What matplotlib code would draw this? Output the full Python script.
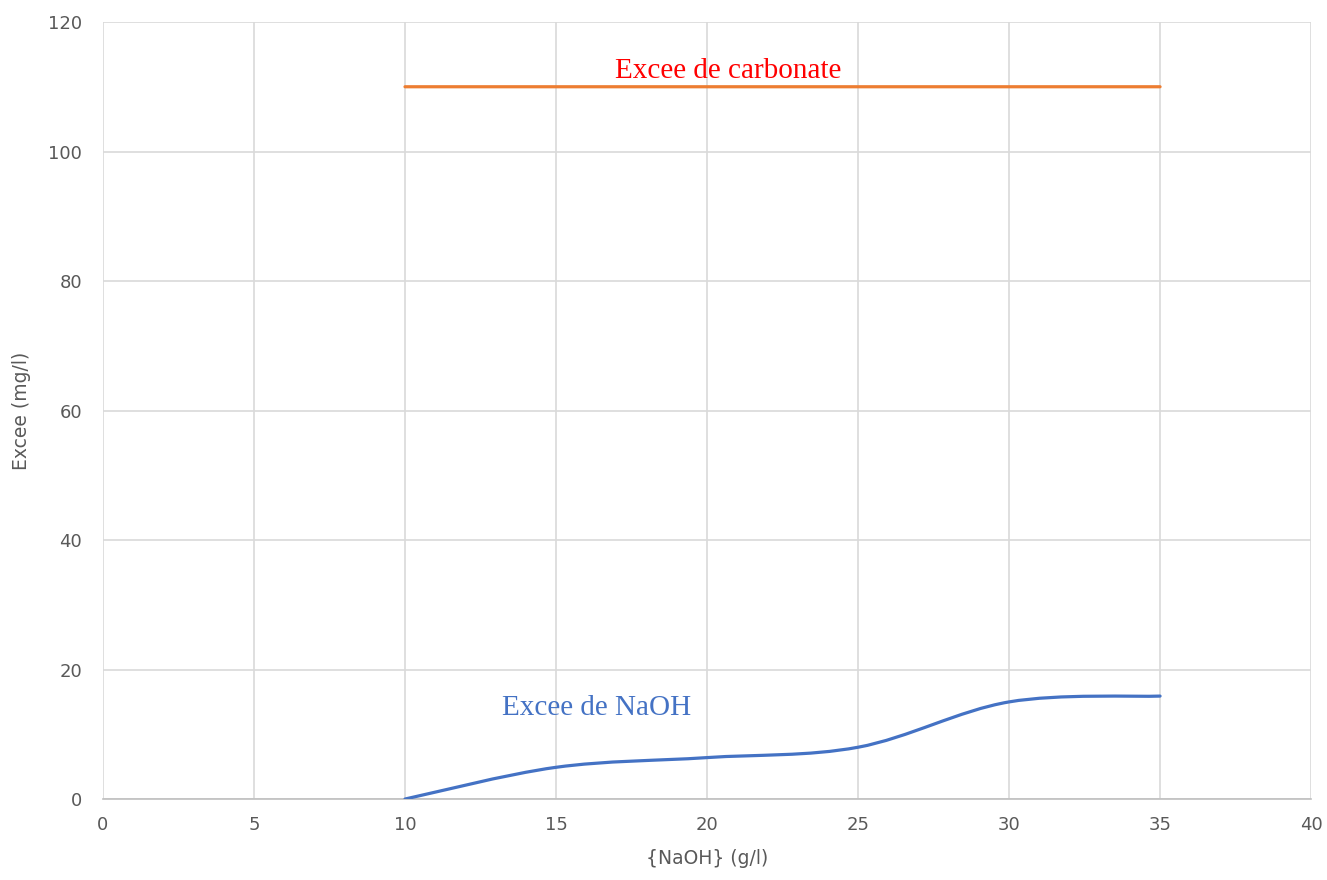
import numpy as np
import matplotlib
matplotlib.use("Agg")
import matplotlib.pyplot as plt
from matplotlib.path import Path
from matplotlib.patches import PathPatch

# Concentración de NaOH (g/l)
naoh = [10, 15, 20, 25, 30, 35]
# Exceso de NaOH (mg/l)
exces_naoh = [0, 4.9, 6.4, 8.0, 15.0, 15.9]
# Exceso de carbonato (mg/l)
exces_carbonate = [110, 110, 110, 110, 110, 110]

x_ticks = [0, 5, 10, 15, 20, 25, 30, 35, 40]
y_ticks = [0, 20, 40, 60, 80, 100, 120]


def smooth_path(x, y):
    # curva suavizada tipo Excel (Bezier cúbica, puntos de control a 1/6)
    pts = np.column_stack([x, y]).astype(float)
    ext = np.vstack([pts[0], pts, pts[-1]])
    verts = [pts[0]]
    codes = [Path.MOVETO]
    for i in range(1, len(ext) - 2):
        p0, p1, p2, p3 = ext[i - 1], ext[i], ext[i + 1], ext[i + 2]
        c1 = p1 + (p2 - p0) / 6.0
        c2 = p2 - (p3 - p1) / 6.0
        verts += [c1, c2, p2]
        codes += [Path.CURVE4] * 3
    return Path(verts, codes)


fig = plt.figure(figsize=(13.27, 8.8), dpi=100)
ax = fig.add_axes([0.0776, 0.092, 0.9104, 0.883])

ax.add_patch(PathPatch(smooth_path(naoh, exces_naoh), fill=False,
                       edgecolor='#4472C4', lw=2.3, capstyle='round', zorder=3))
ax.add_patch(PathPatch(smooth_path(naoh, exces_carbonate), fill=False,
                       edgecolor='#ED7D31', lw=2.3, capstyle='round', zorder=3))

ax.set_xlim(0, 40)
ax.set_ylim(0, 120)
ax.set_xticks(x_ticks)
ax.set_yticks(y_ticks)
ax.grid(True, color='#D9D9D9', lw=1.2)
ax.set_axisbelow(True)
for s in ['top', 'right', 'left']:
    ax.spines[s].set_visible(False)
ax.spines['bottom'].set_color('#BFBFBF')
ax.spines['bottom'].set_linewidth(1.2)
ax.tick_params(length=0, labelsize=13, labelcolor='#595959')
ax.tick_params(axis='y', pad=15)
ax.tick_params(axis='x', pad=12)

ax.set_xlabel('{NaOH} (g/l)', fontsize=13.5, color='#595959', labelpad=11)
ax.set_ylabel('Excee (mg/l)', fontsize=13.5, color='#595959', labelpad=12)

ax.text(20.7, 112.4, 'Excee de carbonate', color='red', fontsize=21,
        family='Liberation Serif', ha='center', va='center')
ax.text(16.35, 14.0, 'Excee de NaOH', color='#4472C4', fontsize=21,
        family='Liberation Serif', ha='center', va='center')

fig.savefig('out.png', dpi=100)
